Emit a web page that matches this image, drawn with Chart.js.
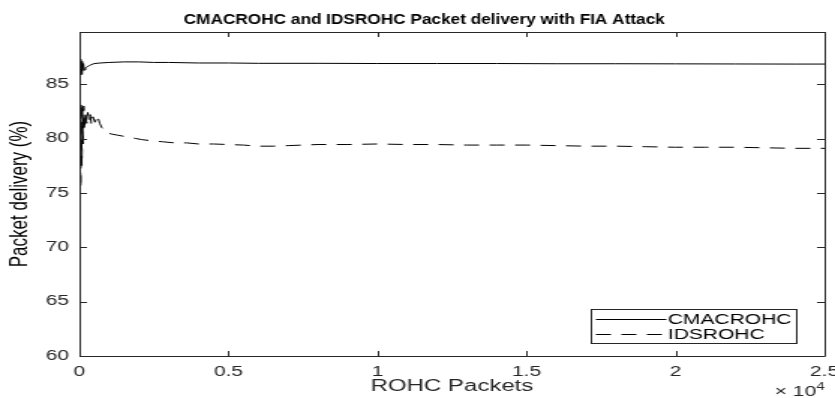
<!DOCTYPE html>
<html>
<head>
<meta charset="utf-8">
<script src="https://cdn.jsdelivr.net/npm/chart.js@4/dist/chart.umd.min.js"></script>
<style>
  html, body { margin: 0; padding: 0; background: #fff; overflow: hidden; }
  #wrap { width: 835px; height: 398px; overflow: hidden; }
  /* the figure is laid out at 557px and widened to the page width */
  #c { display: block; transform: scaleX(1.4991); transform-origin: 0 0; }
</style>
</head>
<body>
<div id="wrap"><canvas id="c" width="557" height="398"></canvas></div>
<script>
// Packet delivery ratio (%) against number of ROHC packets sent
const cmacPackets = [20, 40, 60, 80, 100, 130, 160, 200, 250, 320, 400, 500, 700, 1000, 1500, 2000, 2500, 3000, 4000, 5000, 6000, 8000, 10000, 12000, 14000, 16000, 18000, 20000, 22000, 24000, 25000];
const cmacDelivery = [86.0, 87.3, 85.9, 87.1, 86.2, 86.9, 86.3, 86.5, 86.6, 86.7, 86.8, 86.9, 86.95, 87.0, 87.05, 87.05, 87.0, 87.0, 86.95, 86.95, 86.92, 86.92, 86.9, 86.9, 86.9, 86.88, 86.88, 86.87, 86.86, 86.85, 86.85];

const idsPackets = [20, 40, 60, 80, 100, 120, 140, 170, 200, 240, 280, 320, 360, 400, 450, 520, 600, 680, 750, 850, 950, 1100, 1300, 1500, 1700, 1900, 2100, 2400, 2800, 3200, 3600, 4000, 4500, 5000, 5500, 6000, 6500, 7000, 7500, 8000, 9000, 10000, 11000, 12000, 13000, 14000, 15000, 16000, 17000, 18000, 19000, 20000, 21000, 22000, 23000, 24000, 25000];
const idsDelivery = [80.0, 75.5, 83.3, 77.5, 82.8, 79.5, 83.0, 80.8, 82.5, 81.4, 82.4, 81.6, 82.2, 81.3, 82.0, 81.5, 82.1, 81.4, 81.0, 80.8, 80.5, 80.4, 80.3, 80.2, 80.1, 80.0, 79.9, 79.8, 79.7, 79.6, 79.6, 79.5, 79.5, 79.45, 79.4, 79.3, 79.3, 79.35, 79.4, 79.45, 79.45, 79.5, 79.45, 79.45, 79.4, 79.4, 79.4, 79.35, 79.3, 79.3, 79.25, 79.2, 79.2, 79.2, 79.15, 79.1, 79.1];

const seriesNames = ['CMACROHC', 'IDSROHC'];
const xTickValues = [0, 5000, 10000, 15000, 20000, 25000];
const xTickLabels = ['0', '0.5', '1', '1.5', '2', '2.5'];
const yTickValues = [60, 65, 70, 75, 80, 85];
const chartTitle = 'CMACROHC and IDSROHC Packet delivery with FIA Attack';

const axisColor = '#262626';
const fontFamily = '"Liberation Sans", Arial, Helvetica, sans-serif';

const toPoints = (xs, ys) => xs.map((x, i) => ({ x: x, y: ys[i] }));

// Condensed bold title above the axes
const titlePlugin = {
  id: 'condensedTitle',
  afterDraw(chart) {
    const { ctx } = chart;
    ctx.save();
    ctx.translate(283, 20);
    ctx.scale(0.82, 1);
    ctx.font = 'bold 14px ' + fontFamily;
    ctx.fillStyle = '#000';
    ctx.textAlign = 'center';
    ctx.textBaseline = 'middle';
    ctx.fillText(chartTitle, 0, 0);
    ctx.restore();
  }
};

// Box around the axes with inward tick marks on all four sides
const boxPlugin = {
  id: 'boxTicks',
  afterDatasetsDraw(chart) {
    const { ctx, chartArea: a, scales } = chart;
    const len = 5;
    ctx.save();
    ctx.strokeStyle = axisColor;
    ctx.lineWidth = 1;
    ctx.beginPath();
    ctx.rect(Math.round(a.left) + 0.5, Math.round(a.top) + 0.5, Math.round(a.right - a.left), Math.round(a.bottom - a.top));
    xTickValues.forEach(v => {
      const px = Math.round(scales.x.getPixelForValue(v)) + 0.5;
      ctx.moveTo(px, a.bottom); ctx.lineTo(px, a.bottom - len);
      ctx.moveTo(px, a.top); ctx.lineTo(px, a.top + len);
    });
    yTickValues.forEach(v => {
      const py = Math.round(scales.y.getPixelForValue(v)) + 0.5;
      ctx.moveTo(a.left, py); ctx.lineTo(a.left + len, py);
      ctx.moveTo(a.right, py); ctx.lineTo(a.right - len, py);
    });
    ctx.stroke();
    ctx.restore();
  }
};

// Legend box in the lower right corner and the x-axis exponent label
const legendPlugin = {
  id: 'innerLegend',
  afterDraw(chart) {
    const { ctx, chartArea: a } = chart;
    const w = 137, h = 34;
    const x0 = Math.round(a.right - 156) + 0.5, y0 = Math.round(a.bottom - 47) + 0.5;
    ctx.save();
    ctx.fillStyle = '#fff';
    ctx.fillRect(x0, y0, w, h);
    ctx.strokeStyle = axisColor;
    ctx.lineWidth = 1;
    ctx.strokeRect(x0, y0, w, h);
    ctx.font = '14px ' + fontFamily;
    ctx.textBaseline = 'middle';
    chart.data.datasets.forEach((ds, i) => {
      const yy = y0 + 10 + i * 15;
      ctx.strokeStyle = '#000';
      ctx.lineWidth = 1;
      ctx.setLineDash(ds.borderDash || []);
      ctx.beginPath();
      ctx.moveTo(x0 + 3, yy); ctx.lineTo(x0 + 50, yy);
      ctx.stroke();
      ctx.setLineDash([]);
      ctx.fillStyle = '#000';
      ctx.fillText(ds.label, x0 + 51, yy + 1);
    });
    // ×10^4 multiplier under the right end of the x axis
    ctx.fillStyle = axisColor;
    ctx.textBaseline = 'alphabetic';
    ctx.font = '10px ' + fontFamily;
    const sup = '4';
    const supW = ctx.measureText(sup).width;
    const baseX = a.right;
    ctx.fillText(sup, baseX - supW, 390);
    ctx.font = '14px ' + fontFamily;
    ctx.textAlign = 'right';
    ctx.fillText('\u00d7 10', baseX - supW, 396);
    ctx.restore();
  }
};

new Chart(document.getElementById('c'), {
  type: 'line',
  data: {
    datasets: [
      {
        label: seriesNames[0],
        data: toPoints(cmacPackets, cmacDelivery),
        borderColor: '#000',
        borderWidth: 1,
        pointRadius: 0,
        tension: 0,
        fill: false
      },
      {
        label: seriesNames[1],
        data: toPoints(idsPackets, idsDelivery),
        borderColor: '#000',
        borderWidth: 1,
        borderDash: [10, 7],
        pointRadius: 0,
        tension: 0,
        fill: false
      }
    ]
  },
  options: {
    responsive: false,
    animation: false,
    devicePixelRatio: 1,
    layout: { padding: { left: 0, right: 7, top: 32, bottom: 0 } },
    plugins: {
      legend: { display: false },
      tooltip: { enabled: false },
      title: { display: false }
    },
    scales: {
      x: {
        type: 'linear',
        min: 0,
        max: 25000,
        afterBuildTicks: s => { s.ticks = xTickValues.map(v => ({ value: v })); },
        afterFit: s => { s.height = 42; s.paddingLeft = 0; s.paddingRight = 0; },
        grid: { display: false, drawTicks: false },
        border: { display: false },
        ticks: {
          color: axisColor,
          font: { family: fontFamily, size: 14 },
          padding: 8,
          maxRotation: 0,
          callback: (v) => xTickLabels[xTickValues.indexOf(v)]
        },
        title: {
          display: true,
          text: 'ROHC Packets',
          color: axisColor,
          font: { family: fontFamily, size: 16 },
          padding: { top: 0, bottom: 2 }
        }
      },
      y: {
        type: 'linear',
        min: 60,
        max: 89.8,
        afterBuildTicks: s => { s.ticks = yTickValues.map(v => ({ value: v })); },
        afterFit: s => { s.width = 53; s.paddingTop = 0; s.paddingBottom = 0; },
        grid: { display: false, drawTicks: false },
        border: { display: false },
        ticks: {
          color: axisColor,
          font: { family: fontFamily, size: 14 },
          padding: 7,
          callback: (v) => String(v)
        },
        title: {
          display: true,
          text: 'Packet delivery (%)',
          color: '#000',
          font: { family: fontFamily, size: 17 },
          padding: { top: 3, bottom: 0 }
        }
      }
    }
  },
  plugins: [titlePlugin, boxPlugin, legendPlugin]
});
</script>
</body>
</html>
